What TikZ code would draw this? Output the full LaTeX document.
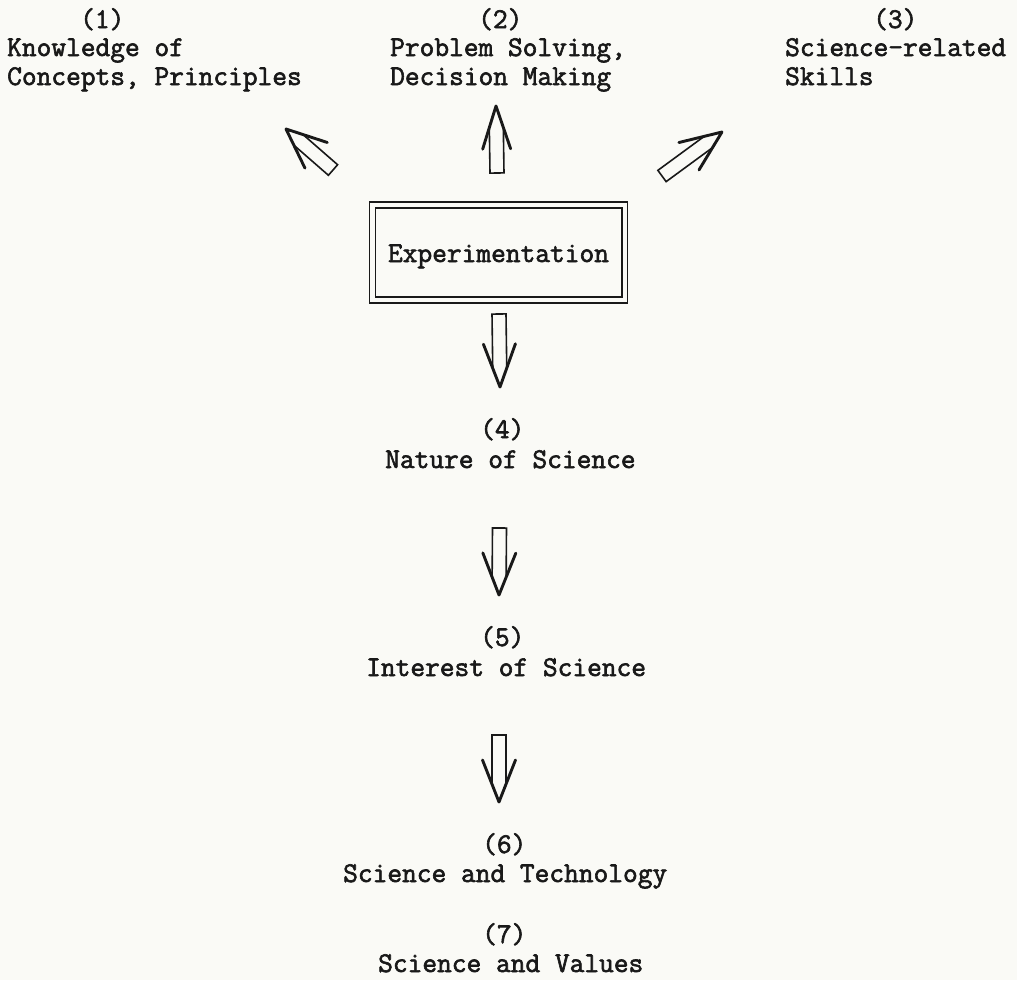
\documentclass[tikz,border=0pt]{standalone}
\usepackage{fontspec}
\setmainfont{Latin Modern Mono}[FakeBold=2.1]
\usetikzlibrary{calc}
\definecolor{ink}{RGB}{25,25,25}
\definecolor{paper}{RGB}{250,250,246}
% #1 tail, #2 tip, #3 head length, #4 head half width, #5 distance from tip where shaft meets head
\newcommand\hollowarr[5]{%
  \coordinate (ha-H) at ($(#2)!#3!(#1)$);
  \coordinate (ha-S) at ($(#2)!#5!(#1)$);
  \draw[arm] ($(ha-H)!#4!90:(#2)$) -- (#2) -- ($(ha-H)!#4!-90:(#2)$);
  \draw[shaft] ($(ha-S)!7pt!90:(#2)$) -- ($(#1)!7pt!90:(#2)$) -- ($(#1)!7pt!-90:(#2)$) -- ($(ha-S)!7pt!-90:(#2)$);
}
\begin{document}
\begin{tikzpicture}[x=1pt,y=-1pt,
  every node/.style={inner sep=0pt,text=ink,font=\fontsize{28.6}{29}\selectfont},
  lbl/.style={anchor=base west},
  box/.style={draw=ink,double=paper,double distance=4.5pt,line width=1.3pt,
    minimum width=252.5pt,minimum height=95pt,text height=19pt,text depth=0pt},
  arm/.style={draw=ink,line width=2.9pt,line cap=round,line join=round},
  shaft/.style={draw=ink,line width=1.6pt,line join=miter}]
\fill[paper] (0,0) rectangle (1017,980);
\useasboundingbox (0,0) rectangle (1017,980);

% top labels
\node[lbl] (n1a) at (80,28) {(1)};
\node[lbl] (n1b) at (7,56) {Knowledge of};
\node[lbl] (n1c) at (7,85) {Concepts, Principles};
\node[lbl] (n2a) at (478,28) {(2)};
\node[lbl] (n2b) at (390,56) {Problem Solving,};
\node[lbl] (n2c) at (390,85) {Decision Making};
\node[lbl] (n3a) at (873,28) {(3)};
\node[lbl] (n3b) at (785,56) {Science-related};
\node[lbl] (n3c) at (785,85) {Skills};

% central box
\node[box] (exp) at (498.5,252.5) {Experimentation};

% lower labels
\node[lbl] (n4a) at (480,438) {(4)};
\node[lbl] (n4b) at (385,468) {Nature of Science};
\node[lbl] (n5a) at (480,646) {(5)};
\node[lbl] (n5b) at (366,676) {Interest of Science};
\node[lbl] (n6a) at (482,853) {(6)};
\node[lbl] (n6b) at (343,882) {Science and Technology};
\node[lbl] (n7a) at (482,943) {(7)};
\node[lbl] (n7b) at (378,972) {Science and Values};

% arrow end points
\coordinate (a1t) at (333,170); \coordinate (a1p) at (286,129);
\coordinate (a2t) at (497,173); \coordinate (a2p) at (496,106);
\coordinate (a3t) at (662,176); \coordinate (a3p) at (722,132);
\coordinate (d1t) at (499,314); \coordinate (d1p) at (500,387);
\coordinate (d2t) at (499.5,528); \coordinate (d2p) at (499,595);
\coordinate (d3t) at (499,735); \coordinate (d3p) at (499,802);

\hollowarr{a1t}{a1p}{40pt}{17pt}{16.5pt}
\hollowarr{a2t}{a2p}{43pt}{14pt}{21.5pt}
\hollowarr{a3t}{a3p}{41pt}{17pt}{16.9pt}
\hollowarr{d1t}{d1p}{43pt}{16pt}{18.8pt}
\hollowarr{d2t}{d2p}{42pt}{16.5pt}{17.8pt}
\hollowarr{d3t}{d3p}{42pt}{16.5pt}{17.8pt}
\end{tikzpicture}
\end{document}
